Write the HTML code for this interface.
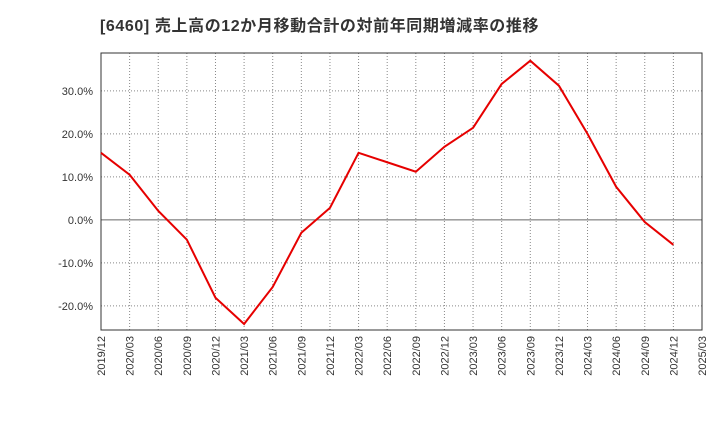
<!DOCTYPE html>
<html><head><meta charset="utf-8"><style>
body{margin:0;background:#fff;font-family:"Liberation Sans","Noto Sans CJK JP",sans-serif}
</style></head><body>
<svg width="720" height="440" xmlns="http://www.w3.org/2000/svg">
<text x="100" y="31" font-size="16" letter-spacing="0.6" font-weight="bold" fill="#333" font-family="Liberation Sans, Noto Sans CJK JP, sans-serif">[6460]  売上高の12か月移動合計の対前年同期増減率の推移</text>
<g id="grid"></g><g id="axes"></g><g id="series"></g>
</svg>
<script>
const categories=["2019/12","2020/03","2020/06","2020/09","2020/12","2021/03","2021/06","2021/09","2021/12","2022/03","2022/06","2022/09","2022/12","2023/03","2023/06","2023/09","2023/12","2024/03","2024/06","2024/09","2024/12","2025/03"];
const values=[15.6,10.5,2.1,-4.6,-18.1,-24.2,-15.6,-3.0,2.8,15.6,13.4,11.2,17.0,21.4,31.6,37.0,31.2,20.0,7.7,-0.5,-5.8];
const yTicks=[30,20,10,0,-10,-20];
const yTickLabels=["30.0%","20.0%","10.0%","0.0%","-10.0%","-20.0%"];
const NS="http://www.w3.org/2000/svg";
const L=101,R=702,T=53,B=330,yMax=38.8,yMin=-25.6;
const x=i=>L+(R-L)*i/(categories.length-1);
const y=v=>T+(yMax-v)/(yMax-yMin)*(B-T);
function mk(tag,at,parent){const e=document.createElementNS(NS,tag);for(const k in at)e.setAttribute(k,at[k]);document.getElementById(parent).appendChild(e);return e;}
categories.forEach((c,i)=>{
 if(i>0&&i<categories.length-1){const g=mk("line",{x1:x(i),x2:x(i),y1:T,y2:B,stroke:"#888","stroke-dasharray":"1,2","stroke-width":1},"grid");
 
 }
 const t=mk("text",{x:0,y:0,"font-size":11,fill:"#333","text-anchor":"end",transform:`translate(${x(i)+4},${B+6}) rotate(-90)`},"axes");
 t.textContent=c;
 
 
});
yTicks.forEach((v,i)=>{
 const g=mk("line",{x1:L,x2:R,y1:y(v),y2:y(v),stroke:v===0?"#666":"#888","stroke-dasharray":v===0?"":"1,2","stroke-width":1},"grid");
 
 
 const t=mk("text",{x:L-8,y:y(v)+4,"font-size":11,fill:"#333","text-anchor":"end"},"axes");
 t.textContent=yTickLabels[i];
 
 
});
const fr=mk("rect",{x:L,y:T,width:R-L,height:B-T,fill:"none",stroke:"#333","stroke-width":1},"axes");


const ln=mk("polyline",{points:values.map((v,i)=>x(i)+","+y(v)).join(" "),fill:"none",stroke:"#e60000","stroke-width":2},"series");


</script>
</body></html>
